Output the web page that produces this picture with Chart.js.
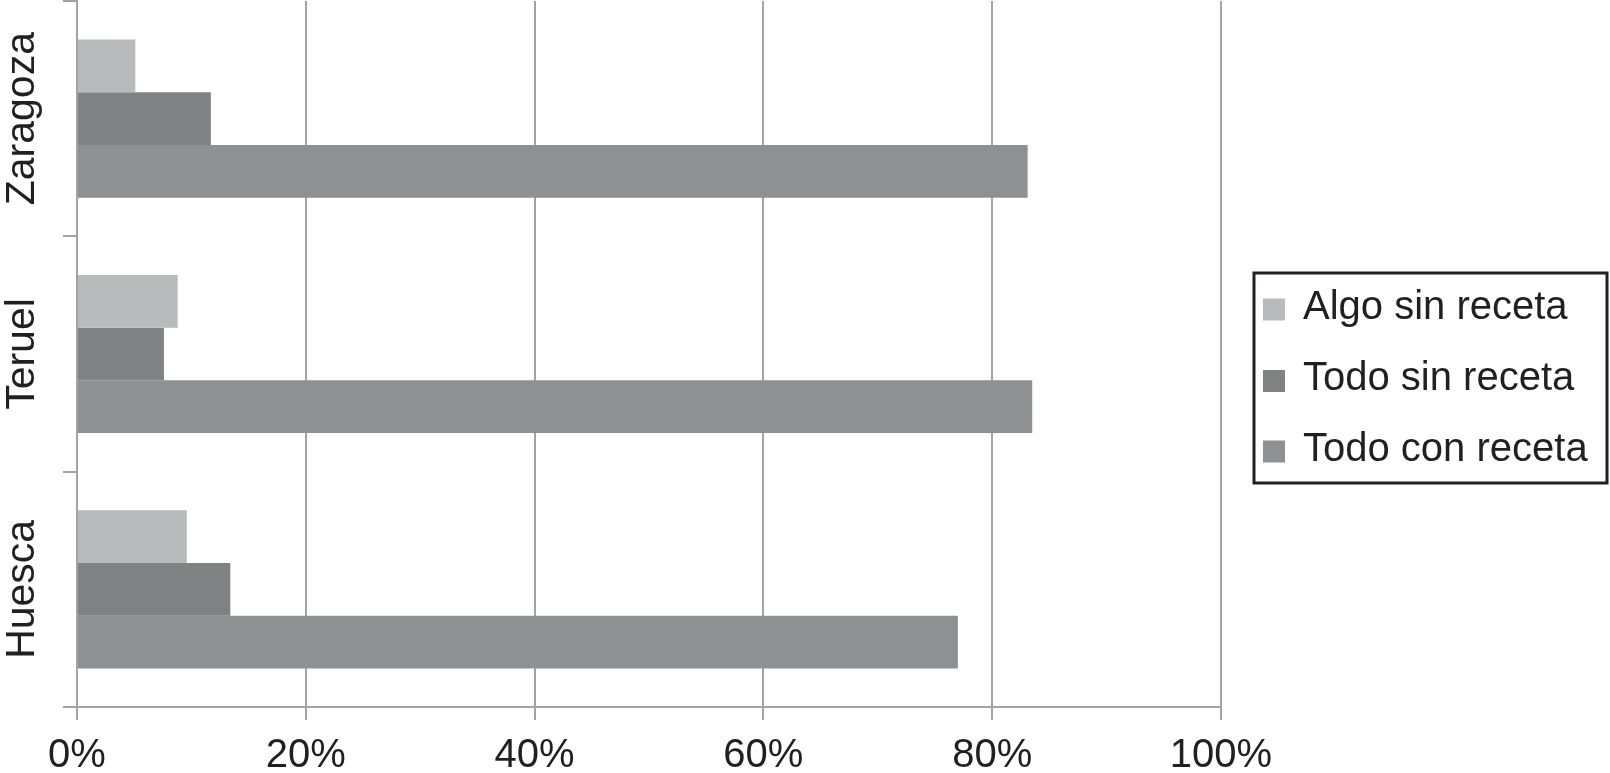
<!DOCTYPE html>
<html>
<head>
<meta charset="utf-8">
<script src="https://cdn.jsdelivr.net/npm/chart.js@4.4.1/dist/chart.umd.min.js"></script>
<style>
  html, body { margin: 0; padding: 0; background: #fff; }
  #wrap { width: 1610px; height: 773px; position: relative; }
</style>
</head>
<body>
<div id="wrap"><canvas id="recetaChart"></canvas></div>
<script>
const provincias = ["Zaragoza", "Teruel", "Huesca"];
const algoSinReceta = [5.1, 8.8, 9.6];
const todoSinReceta = [11.7, 7.6, 13.4];
const todoConReceta = [83.1, 83.5, 77.0];
const xTicks = [0, 20, 40, 60, 80, 100];

const FONT = "'Liberation Sans', Arial, Helvetica, sans-serif";
const TEXT = "#231f20";
const GRID = "#a3a3a3";

// y labels are drawn rotated, Chart.js can't rotate labels on a vertical axis
const rotatedLabels = {
    id: "rotatedLabels",
    afterDraw(chart) {
        const ctx = chart.ctx;
        const y = chart.scales.y;
        ctx.save();
        ctx.font = "41px " + FONT;
        ctx.fillStyle = TEXT;
        ctx.textAlign = "center";
        ctx.textBaseline = "middle";
        chart.data.labels.forEach((lab, i) => {
            ctx.save();
            ctx.translate(23, y.getPixelForValue(i));
            ctx.rotate(-Math.PI / 2);
            ctx.fillText(lab, 0, 0);
            ctx.restore();
        });
        ctx.restore();
    }
};

// boxed legend on the right
const boxLegend = {
    id: "boxLegend",
    afterDraw(chart) {
        const ctx = chart.ctx;
        const left = 1254, top = 273, right = 1607, bottom = 483;
        const rows = [309.5, 381, 451.5];
        ctx.save();
        ctx.lineWidth = 3;
        ctx.strokeStyle = TEXT;
        ctx.strokeRect(left, top, right - left, bottom - top);
        ctx.font = "40px " + FONT;
        ctx.textBaseline = "middle";
        ctx.textAlign = "left";
        chart.data.datasets.forEach((ds, i) => {
            ctx.fillStyle = ds.backgroundColor;
            ctx.fillRect(1263, rows[i] - 11, 22, 22);
            ctx.fillStyle = TEXT;
            ctx.fillText(ds.label, 1303, rows[i] - 2);
        });
        ctx.restore();
    }
};

document.addEventListener("DOMContentLoaded", function() {
    new Chart(document.getElementById("recetaChart"), {
        type: "bar",
        data: {
            labels: provincias,
            datasets: [
                { label: "Algo sin receta", data: algoSinReceta, backgroundColor: "#b9babc" },
                { label: "Todo sin receta", data: todoSinReceta, backgroundColor: "#808183" },
                { label: "Todo con receta", data: todoConReceta, backgroundColor: "#8f9094" }
            ]
        },
        options: {
            indexAxis: "y",
            responsive: true,
            maintainAspectRatio: false,
            animation: false,
            layout: { padding: { left: 63, right: 389, top: 1, bottom: 0 } },
            datasets: {
                bar: { categoryPercentage: 0.672, barPercentage: 1.0, borderWidth: 0 }
            },
            plugins: {
                legend: { display: false },
                tooltip: { enabled: false }
            },
            scales: {
                x: {
                    min: 0,
                    max: 100,
                    afterBuildTicks: (axis) => { axis.ticks = xTicks.map(v => ({ value: v })); },
                    afterFit: (axis) => { axis.height = 66; },
                    ticks: {
                        padding: 12,
                        color: TEXT,
                        font: { family: FONT, size: 40 },
                        callback: (v) => v + "%"
                    },
                    grid: { color: GRID, lineWidth: 2, tickLength: 13 },
                    border: { color: GRID, width: 2 }
                },
                y: {
                    ticks: { display: false },
                    grid: { drawOnChartArea: false, color: GRID, lineWidth: 2, tickLength: 14 },
                    border: { color: GRID, width: 2 }
                }
            }
        },
        plugins: [rotatedLabels, boxLegend]
    });
});
</script>
</body>
</html>
